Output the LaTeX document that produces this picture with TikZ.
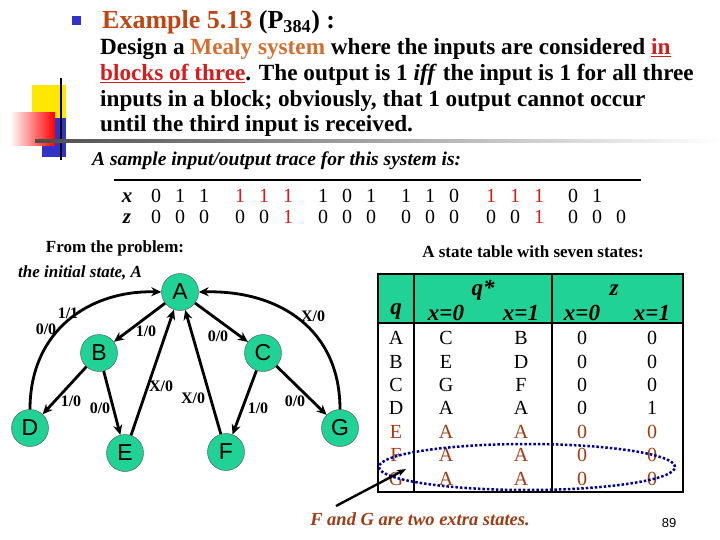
\documentclass[tikz,border=0pt]{standalone}
\usepackage{fontspec}
\setmainfont{Liberation Serif}
\newfontfamily\sansf{Liberation Sans}
\usetikzlibrary{arrows.meta,shadings,shapes.geometric}
\definecolor{tgreen}{RGB}{32,210,150}
\definecolor{tbrown}{RGB}{190,70,20}
\definecolor{mealy}{RGB}{210,110,50}
\definecolor{tred}{RGB}{210,30,30}
\definecolor{ebrown}{RGB}{160,60,20}
\definecolor{bblue}{RGB}{50,50,200}
\begin{document}
\begin{tikzpicture}[x=1pt,y=-1pt,
 st/.style={circle,fill=tgreen,draw=black!70,minimum size=37pt,inner sep=0pt,font=\sansf\fontsize{23}{23}\selectfont},
 arr/.style={-{Stealth[length=10pt,width=9pt]},line width=2.8pt},
 lab/.style={font=\bfseries\fontsize{16}{16}\selectfont},
 tc/.style={font=\fontsize{20}{20}\selectfont},
 th/.style={font=\bfseries\itshape\fontsize{23}{23}\selectfont},
 dg/.style={font=\fontsize{20}{20}\selectfont,inner sep=0pt,anchor=base},
 bt/.style={anchor=base west,font=\bfseries\fontsize{23.2}{26}\selectfont,inner sep=0pt}]
\useasboundingbox (0,0) rectangle (720,540);
% decoration
\fill[yellow!90!orange] (32,85) rectangle (66,118);
\fill[bblue] (42,118) rectangle (66,157);
\shade[left color=white,right color=red] (10,113) rectangle (55,146);
\draw[line width=1.5pt] (61,78) -- (61,160);
\shade[left color=black!70,right color=white] (35,140) rectangle (720,143);
\fill[bblue] (72,16) rectangle (81,25);
% title
\node[bt,font=\bfseries\fontsize{26}{26}\selectfont] (title) at (102,29) {\textcolor{tbrown}{Example 5.13} (P\textsubscript{384}) :};
\node[bt] (l1) at (100,55) {Design a \textcolor{mealy}{Mealy system} where the inputs are considered \textcolor{tred}{\underline{in}}};
\node[bt] (l2) at (100,81) {\textcolor{tred}{\underline{blocks of three}}. The output is 1 \textit{iff} the input is 1 for all three};
\node[bt] (l3) at (100,107) {inputs in a block; obviously, that 1 output cannot occur};
\node[bt] (l4) at (100,132) {until the third input is received.};
\node[anchor=base west,inner sep=0pt,font=\bfseries\itshape\fontsize{19.5}{19}\selectfont] (samp) at (92,166) {A sample input/output trace for this system is:};
\draw[line width=2pt] (114,180) -- (641,180);
\node[dg,font=\bfseries\itshape\fontsize{21}{21}\selectfont] (xl) at (127,203) {x};
\node[dg,font=\bfseries\itshape\fontsize{21}{21}\selectfont] (zl) at (127,223) {z};
\foreach \px/\cx/\cz/\dx/\dz in {156/black/black/0/0,180/black/black/1/0,204/black/black/1/0,
 240/tred/black/1/0,264/tred/black/1/0,288/tred/tred/1/1,
 323/black/black/1/0,347/black/black/0/0,371/black/black/1/0,
 406/black/black/1/0,430/black/black/1/0,454/black/black/0/0,
 491/tred/black/1/0,515/tred/black/1/0,539/tred/tred/1/1}{
 \node[dg,text=\cx] at (\px,203) {\dx};
 \node[dg,text=\cz] at (\px,223) {\dz};
}
\node[dg] at (573,203) {0};\node[dg] at (597,203) {1};
\node[dg] at (573,223) {0};\node[dg] at (597,223) {0};\node[dg] at (621,223) {0};
\node[font=\bfseries\fontsize{17}{17}\selectfont] (fp) at (115,248) {From the problem:};
\node[font=\bfseries\itshape\fontsize{17}{17}\selectfont] (ini) at (80,273) {the initial state, A};
\node[font=\bfseries\fontsize{17}{17}\selectfont] (stt) at (533,252) {A state table with seven states:};
% graph
\node[st] (A) at (180,292) {A};
\node[st] (B) at (99,353) {B};
\node[st] (C) at (263,353) {C};
\node[st] (D) at (30,428) {D};
\node[st] (E) at (125,453) {E};
\node[st] (F) at (226,452) {F};
\node[st] (G) at (340,428) {G};
\draw[arr] (A) -- (B);
\draw[arr] (A) -- (C);
\draw[arr] (B) -- (D);
\draw[arr] (B) -- (E);
\draw[arr] (C) -- (F);
\draw[arr] (C) -- (G);
\draw[arr] (E) -- (A);
\draw[arr] (F) -- (A);
\draw[arr] (D.north) .. controls (30,330) and (90,290) .. (A.west);
\draw[arr] (G.north) .. controls (340,330) and (280,290) .. (A.east);
\node[lab] at (68,313) {1/1};
\node[lab] at (46,329) {0/0};
\node[lab] at (146,331) {1/0};
\node[lab] at (218,336) {0/0};
\node[lab] at (313,316) {X/0};
\node[lab] at (71,401) {1/0};
\node[lab] at (100,408) {0/0};
\node[lab] at (161,386) {X/0};
\node[lab] at (193,398) {X/0};
\node[lab] at (258,408) {1/0};
\node[lab] at (295,401) {0/0};
% table
\fill[tgreen] (378,274) rectangle (683,323);
\draw[line width=2pt] (378,274) rectangle (683,492);
\draw[line width=1.5pt] (378,323) -- (683,323);
\draw[line width=1.5pt] (414,274) -- (414,492);
\draw[line width=1.5pt] (552,274) -- (552,492);
\node[th] at (396,312) {q};
\node[th] at (483,290) {q*};
\node[th] at (446,313) {x=0};
\node[th] at (521,313) {x=1};
\node[th] at (614,290) {z};
\node[th] at (582,313) {x=0};
\node[th] at (652,313) {x=1};
\foreach \q/\a/\b/\c/\d/\y/\col in {A/C/B/0/0/338/black,B/E/D/0/0/362/black,C/G/F/0/0/385/black,D/A/A/0/1/408/black,E/A/A/0/0/432/ebrown,F/A/A/0/0/455/ebrown,G/A/A/0/0/479/ebrown}{
 \node[tc,text=\col] at (396,\y) {\q};
 \node[tc,text=\col] at (446,\y) {\a};
 \node[tc,text=\col] at (521,\y) {\b};
 \node[tc,text=\col] at (582,\y) {\c};
 \node[tc,text=\col] at (652,\y) {\d};
}
\node[draw=blue!60!black,dotted,line width=2.5pt,ellipse,minimum width=296pt,minimum height=46pt,inner sep=0pt] (ell) at (527,467) {};
\node[font=\bfseries\itshape\fontsize{18.5}{18}\selectfont,text=ebrown] (fg) at (420,519) {F and G are two extra states.};
\coordinate (s) at (336,506);
\draw[-{Stealth[length=9pt]},line width=2.4pt] (s) -- (406,469);
\node[font=\sansf\fontsize{13}{13}\selectfont] (pg) at (669,523) {89};
\end{tikzpicture}
\end{document}
